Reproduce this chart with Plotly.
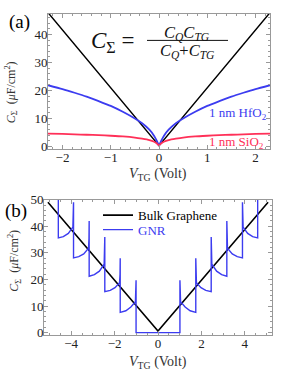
import plotly.graph_objects as go

W, H = 281, 378

# ---------------- Panel (a) data (right half, mirrored for V<0) ----------------
va_x = [0, 0.05, 0.1, 0.2, 0.35, 0.5, 0.75, 1.0, 1.25, 1.5, 1.75, 2.0, 2.3]
hfo2_y = [0.4, 2.2, 3.8, 6.0, 8.3, 10.0, 12.4, 14.5, 16.2, 17.8, 19.2, 20.5, 21.9]
sio2_y = [0.4, 1.2, 1.7, 2.3, 2.8, 3.2, 3.6, 3.85, 4.05, 4.2, 4.35, 4.5, 4.6]
bulk_a_x = [-2.3, 0, 2.3]
bulk_a_y = [47.8, 0.3, 47.8]

# ---------------- Panel (b) data ----------------
bulk_b_x = [-5.07, 0, 5.07]
bulk_b_y = [49.0, 0.6, 49.0]
# GNR right branch (V>0), mirrored for V<0
gnr_rx = [1.01, 1.01, 1.018, 1.04, 1.25, 1.48, 1.74,
          1.74, 1.748, 1.77, 1.98, 2.2, 2.45,
          2.45, 2.458, 2.48, 2.7, 2.93, 3.17,
          3.17, 3.178, 3.2, 3.42, 3.65, 3.89,
          3.89, 3.898, 3.92, 4.13, 4.36, 4.59,
          4.59]
gnr_ry = [0.0, 19.7, 14.5, 11.6, 9.6, 8.2, 7.6,
          28.0, 22.0, 18.8, 16.9, 15.9, 15.4,
          36.0, 29.5, 25.7, 23.1, 21.8, 21.2,
          42.0, 35.5, 31.7, 29.6, 28.6, 28.1,
          49.0, 43.0, 39.7, 37.3, 36.1, 35.6,
          55.0]


def mirror(xs, ys, include_zero=True):
    lx = [-v for v in reversed(xs)]
    ly = list(reversed(ys))
    if include_zero and xs[0] == 0:
        return lx[:-1] + xs, ly[:-1] + ys
    return lx + xs, ly + ys


hx, hy = mirror(va_x, hfo2_y)
sx, sy = mirror(va_x, sio2_y)
gx, gy = mirror(gnr_rx, gnr_ry, include_zero=False)

BLUE = "#3c3cf0"
RED = "#ff3058"
SERIF = "Liberation Serif"

fig = go.Figure()
fig.add_trace(go.Scatter(x=bulk_a_x, y=bulk_a_y, mode="lines",
                         line=dict(color="black", width=1.5),
                         xaxis="x", yaxis="y", showlegend=False))
fig.add_trace(go.Scatter(x=hx, y=hy, mode="lines", line=dict(color=BLUE, width=1.8, shape="spline", smoothing=0.6),
                         xaxis="x", yaxis="y", showlegend=False))
fig.add_trace(go.Scatter(x=sx, y=sy, mode="lines", line=dict(color=RED, width=1.8, shape="spline", smoothing=0.6),
                         xaxis="x", yaxis="y", showlegend=False))

fig.add_trace(go.Scatter(x=bulk_b_x, y=bulk_b_y, mode="lines", name="Bulk Graphene",
                         line=dict(color="black", width=1.6),
                         xaxis="x2", yaxis="y2", legend="legend"))
fig.add_trace(go.Scatter(x=gx, y=gy, mode="lines",
                         name='<span style="color:%s">GNR</span>' % BLUE,
                         line=dict(color=BLUE, width=1.4),
                         xaxis="x2", yaxis="y2", legend="legend2"))


def px(x):
    return x / W


def py(y):
    return 1 - y / H


FRAME = "#999999"
common = dict(showline=True, linecolor=FRAME, linewidth=1, mirror="allticks",
              ticks="inside", ticklen=4, tickwidth=1, tickcolor=FRAME,
              showgrid=False, zeroline=False,
              tickfont=dict(family=SERIF, size=13, color="#222"))
xcommon = dict(common, ticklabelstandoff=-4)
ycommon = dict(common, ticklabelstandoff=-3)

leg_common = dict(xanchor="left", yanchor="middle", bgcolor="rgba(0,0,0,0)",
                  font=dict(family=SERIF, size=13, color="black"),
                  itemwidth=30, tracegroupgap=0)

fig.update_layout(
    width=W, height=H, margin=dict(l=0, r=0, t=0, b=0),
    paper_bgcolor="white", plot_bgcolor="white",
    xaxis=dict(domain=[px(48), px(270)], range=[-2.3, 2.3], anchor="y",
               dtick=1, tick0=0,
               minor=dict(ticks="inside", ticklen=2, tickcolor=FRAME, dtick=0.2),
               **xcommon),
    yaxis=dict(domain=[py(147), py(7)], range=[-1, 47.4], anchor="x",
               dtick=10, tick0=0,
               minor=dict(ticks="inside", ticklen=2, tickcolor=FRAME, dtick=2),
               **ycommon),
    xaxis2=dict(domain=[px(44), px(272)], range=[-5.25, 5.25], anchor="y2",
                dtick=2, tick0=0,
                minor=dict(ticks="inside", ticklen=2, tickcolor=FRAME, dtick=0.5),
                **xcommon),
    yaxis2=dict(domain=[py(339), py(199)], range=[-1, 50], anchor="x2",
                dtick=10, tick0=0,
                minor=dict(ticks="inside", ticklen=2, tickcolor=FRAME, dtick=2),
                **ycommon),
    legend=dict(x=px(98), y=py(215), **leg_common),
    legend2=dict(x=px(98), y=py(230), **leg_common),
    showlegend=True,
)

ann = []


def add_text(text, x, y, size, color="#111", angle=0, xanchor="center"):
    ann.append(dict(text=text, x=px(x), y=py(y), xref="paper", yref="paper",
                    showarrow=False, xanchor=xanchor, yanchor="middle",
                    textangle=angle, font=dict(family=SERIF, size=size, color=color)))


add_text("(a)", 19, 16, 19, "black")
add_text("(b)", 16, 211, 19, "black")
ylab = "<i>C</i><sub>Σ</sub>  (<i>μ</i>F/cm<sup>2</sup>)"
add_text(ylab, 11, 88, 12, "#333", angle=-90)
add_text(ylab, 15, 262, 12, "#333", angle=-90)
xlab = "<i>V</i><sub>TG</sub> (Volt)"
add_text(xlab, 158, 173, 14, "#333")
add_text(xlab, 158, 367, 14, "#333")
add_text("1 nm HfO<sub>2</sub>", 238, 110, 13, BLUE)
add_text("1 nm SiO<sub>2</sub>", 237, 140, 13, RED)
# formula
add_text("<i>C</i><sub>Σ</sub> =", 89, 36, 23, "#111", xanchor="left")
add_text("<i>C<sub>Q</sub>C<sub>TG</sub></i>", 187, 27, 16.5, "#111")
add_text("<i>C<sub>Q</sub></i>+<i>C<sub>TG</sub></i>", 187, 45, 16.5, "#111")
fig.update_layout(annotations=ann,
                  shapes=[dict(type="line", xref="paper", yref="paper",
                               x0=px(147), x1=px(228), y0=py(34.5), y1=py(34.5),
                               line=dict(color="#111", width=1))])

fig.write_html("out.html", config={"displayModeBar": False},
               post_script="document.body.style.margin='0';document.body.style.overflow='hidden';")
